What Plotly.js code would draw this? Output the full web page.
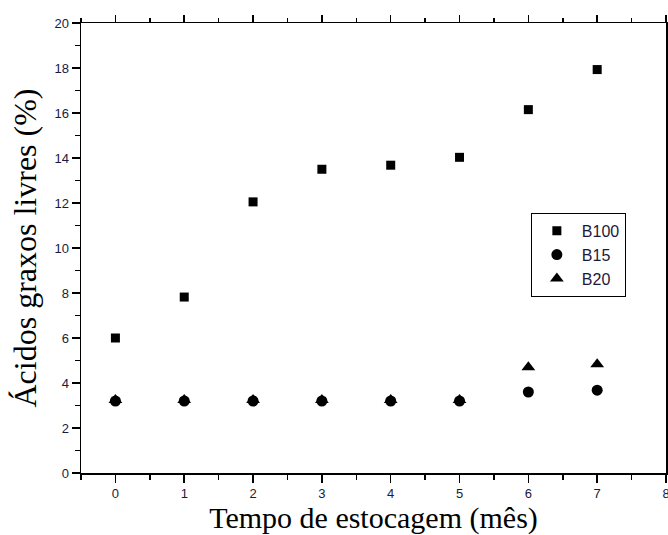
<!DOCTYPE html>
<html>
<head>
<meta charset="utf-8">
<script src="https://cdn.plot.ly/plotly-3.0.1.min.js"></script>
<style>html,body{margin:0;padding:0;background:#fff;}#chart{width:668px;height:535px;}</style>
</head>
<body>
<div id="chart"></div>
<script>
const months = [0, 1, 2, 3, 4, 5, 6, 7];
const b100 = [6.0, 7.82, 12.05, 13.5, 13.68, 14.03, 16.15, 17.93];
const b15 = [3.2, 3.2, 3.2, 3.2, 3.2, 3.2, 3.6, 3.68];
const b20 = [3.25, 3.25, 3.25, 3.25, 3.25, 3.25, 4.7, 4.83];
const seriesNames = ['B100', 'B15', 'B20'];
const topMajor = [0, 1, 2, 3, 4, 5, 6, 7, 8];
const topMinor = [-0.5, 0.5, 1.5, 2.5, 3.5, 4.5, 5.5, 6.5, 7.5];

const traces = [
  {x: months, y: b100, name: seriesNames[0], type: 'scatter', mode: 'markers',
   marker: {symbol: 'square', size: 9, color: '#000'}},
  {x: months, y: b15, name: seriesNames[1], type: 'scatter', mode: 'markers',
   marker: {symbol: 'circle', size: 11, color: '#000'}},
  {x: months, y: b20, name: seriesNames[2], type: 'scatter', mode: 'markers',
   marker: {symbol: 'triangle-up', size: 12, color: '#000'}},
  {x: [0], y: [0], xaxis: 'x2', yaxis: 'y', type: 'scatter', mode: 'markers',
   marker: {opacity: 0, size: 1}, showlegend: false, hoverinfo: 'skip'},
  {x: [0], y: [0], xaxis: 'x3', yaxis: 'y', type: 'scatter', mode: 'markers',
   marker: {opacity: 0, size: 1}, showlegend: false, hoverinfo: 'skip'}
];

const tickFont = {family: 'Liberation Sans, Arial, sans-serif', size: 13, color: '#1a1a3a'};

const layout = {
  width: 668, height: 535,
  margin: {l: 81, r: 2, t: 23, b: 62},
  paper_bgcolor: '#fff', plot_bgcolor: '#fff',
  showlegend: true,
  legend: {x: 0.769, y: 0.578, xanchor: 'left', yanchor: 'top',
    bordercolor: '#000', borderwidth: 1, bgcolor: '#fff',
    font: {family: 'Liberation Sans, Arial, sans-serif', size: 16, color: '#1a1a3a'},
    itemwidth: 40, tracegroupgap: 0},
  xaxis: {
    range: [-0.5, 8], tickmode: 'linear', tick0: 0, dtick: 1,
    showgrid: false, zeroline: false, ticklabeloverflow: 'allow',
    showline: true, linecolor: '#000', linewidth: 1.5, mirror: true,
    ticks: 'outside', ticklen: 8, tickwidth: 1.5, tickcolor: '#000',
    minor: {dtick: 0.5, tick0: 0, ticklen: 5, tickwidth: 1.5, tickcolor: '#000', ticks: 'outside', showgrid: false},
    tickfont: tickFont,
    title: {text: 'Tempo de estocagem (mês)', standoff: 6,
      font: {family: 'Liberation Serif, Times New Roman, serif', size: 30, color: '#000'}}
  },
  xaxis2: {
    overlaying: 'x', anchor: 'free', position: 1, side: 'top', range: [-0.5, 8],
    tickmode: 'array', tickvals: topMajor, showticklabels: false,
    showgrid: false, zeroline: false, showline: false,
    ticks: 'outside', ticklen: 8, tickwidth: 1.5, tickcolor: '#000'
  },
  xaxis3: {
    overlaying: 'x', anchor: 'free', position: 1, side: 'top', range: [-0.5, 8],
    tickmode: 'array', tickvals: topMinor, showticklabels: false,
    showgrid: false, zeroline: false, showline: false,
    ticks: 'outside', ticklen: 5, tickwidth: 1.5, tickcolor: '#000'
  },
  yaxis: {
    range: [0, 20], tickmode: 'linear', tick0: 0, dtick: 2,
    showgrid: false, zeroline: false,
    showline: true, linecolor: '#000', linewidth: 1.5, mirror: true,
    ticks: 'outside', ticklen: 8, tickwidth: 1.2, tickcolor: '#000',
    minor: {dtick: 1, tick0: 0, ticklen: 5, tickwidth: 1.2, tickcolor: '#000', ticks: 'outside', showgrid: false},
    tickfont: tickFont,
    title: {text: 'Ácidos graxos livres (%)', standoff: 8,
      font: {family: 'Liberation Serif, Times New Roman, serif', size: 32, color: '#000'}}
  }
};

Plotly.newPlot('chart', traces, layout, {staticPlot: true, displayModeBar: false});
</script>
</body>
</html>
